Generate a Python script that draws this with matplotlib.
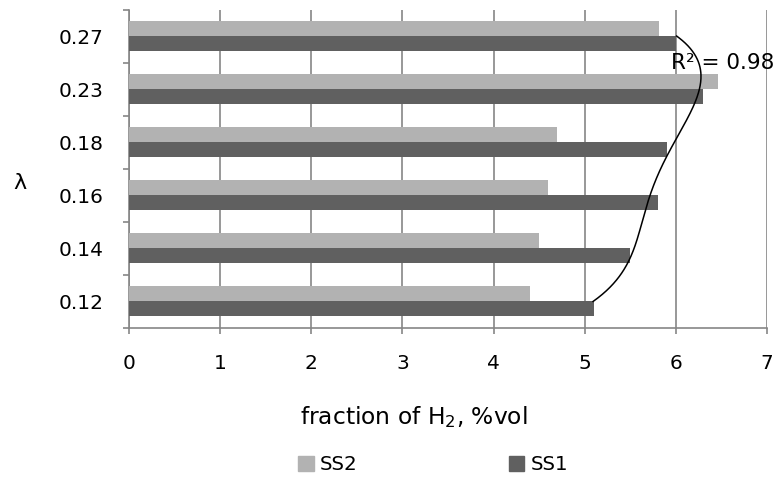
import numpy as np
import matplotlib
matplotlib.use("Agg")
import matplotlib.pyplot as plt
from matplotlib.patches import Patch

# data
lambdas = ["0.12", "0.14", "0.16", "0.18", "0.23", "0.27"]
ss1 = [5.1, 5.5, 5.8, 5.9, 6.3, 6.0]
ss2 = [4.4, 4.5, 4.6, 4.7, 6.46, 5.82]

light = "#b2b2b2"
dark = "#606060"
grid = "#868686"

plt.rcParams["font.family"] = ["DejaVu Sans"]

fig = plt.figure(figsize=(7.84, 4.79), dpi=100)
ax = fig.add_axes([129 / 784, 1 - 328 / 479, (767 - 129) / 784, (328 - 9.5) / 479])

pos = np.arange(len(lambdas))
h = 0.283
ax.barh(pos, ss2, height=h, align="edge", color=light, zorder=3)
ax.barh(pos - h, ss1, height=h, align="edge", color=dark, zorder=3)

# polynomial trendline (order 4) of SS1 across categories
coef = np.polyfit(pos, ss1, 4)
t = np.linspace(pos[0], pos[-1], 300)
ax.plot(np.polyval(coef, t), t, color="black", lw=1.1, zorder=4)
ax.text(5.95, 4.5, "R² = 0.98", fontsize=15.5, ha="left", va="center", zorder=5)

ax.set_xlim(0, 7)
ax.set_ylim(-0.5, len(lambdas) - 0.5)
ax.set_xticks(range(8))
ax.xaxis.grid(True, color=grid, lw=1.2, zorder=0)
ax.tick_params(axis="x", length=4, color=grid, width=1.2, pad=15, labelsize=14.5)

ax.set_yticks(np.arange(-0.5, len(lambdas), 1.0))
ax.set_yticklabels([])
ax.set_yticks(pos, minor=True)
ax.set_yticklabels(lambdas, minor=True)
ax.tick_params(axis="y", which="major", length=4, color=grid, width=1.2)
ax.tick_params(axis="y", which="minor", length=0, pad=18, labelsize=14.5)

for s in ["top", "right"]:
    ax.spines[s].set_visible(False)
for s in ["left", "bottom"]:
    ax.spines[s].set_color(grid)
    ax.spines[s].set_linewidth(1.2)

fig.text(414 / 784, 1 - 417 / 479, "fraction of H$_2$, %vol", fontsize=16.8,
         ha="center", va="center")
fig.text(20 / 784, 1 - 183 / 479, "λ", fontsize=16, ha="center", va="center")

handles = [Patch(color=light, label="SS2"), Patch(color=dark, label="SS1")]
fig.legend(handles=handles, loc="center left", bbox_to_anchor=(298 / 784, 1 - 465 / 479),
           ncol=2, frameon=False, fontsize=14.3, handlelength=0.8, handleheight=0.8,
           handletextpad=0.3, columnspacing=7.6, borderpad=0, borderaxespad=0)

fig.savefig("out.png", dpi=100)
